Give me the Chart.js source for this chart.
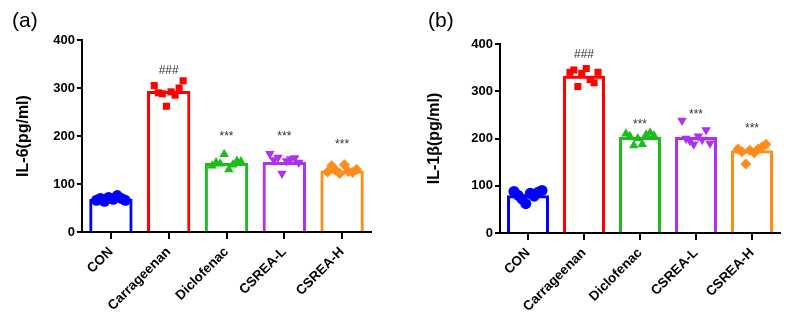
<!DOCTYPE html>
<html>
<head>
<meta charset="utf-8">
<script src="https://cdn.jsdelivr.net/npm/chart.js@4.4.1/dist/chart.umd.min.js"></script>
<style>
  body { margin: 0; background: #fff; }
  #wrap { position: relative; width: 791px; height: 322px; }
  .box { position: absolute; top: 0; height: 322px; }
</style>
</head>
<body>
<div id="wrap">
  <div class="box" style="left:0;width:395px"><canvas id="c1"></canvas></div>
  <div class="box" style="left:395px;width:396px"><canvas id="c2"></canvas></div>
</div>
<script>
// groups
var groups = ['CON', 'Carrageenan', 'Diclofenac', 'CSREA-L', 'CSREA-H'];
var colors = ['#0000ff', '#ff0000', '#1dbb1d', '#b030f0', '#ff8c1a'];
var shapes = ['circle', 'rect', 'triangle', 'triangle', 'rectRot'];
var turns = [0, 0, 0, 180, 0];
var yTicks = [0, 100, 200, 300, 400];

// IL-6 (pg/ml)
var il6Mean = [69, 294, 144, 146, 128];
var il6Pts = [
  [66, 70, 64, 72, 68, 76, 70, 66],
  [305, 290, 288, 262, 292, 285, 300, 315],
  [138, 145, 142, 162, 130, 140, 148, 147],
  [163, 150, 155, 122, 148, 152, 154, 145],
  [125, 138, 128, 122, 140, 126, 124, 130]
];
var il6Sig = ['', '###', '***', '***', '***'];
var il6SigAt = [0, 337, 198, 198, 181];

// IL-1b (pg/ml)
var il1Mean = [80, 333, 203, 203, 175];
var il1Pts = [
  [88, 80, 72, 62, 84, 78, 86, 90],
  [340, 345, 310, 338, 348, 325, 318, 340],
  [210, 205, 185, 200, 188, 208, 212, 206],
  [238, 200, 195, 188, 205, 198, 218, 190],
  [178, 172, 146, 175, 170, 178, 182, 188]
];
var il1Sig = ['', '###', '***', '***', '***'];
var il1SigAt = [0, 377, 229, 250, 220];

// horizontal spread of the dots inside each bar
var spread = [-0.25, -0.18, -0.11, -0.04, 0.04, 0.11, 0.18, 0.25];

var face = 'Arial, "Liberation Sans", sans-serif';

function build(id, letter, title, means, pts, sig, sigAt, pad, yw, xh) {
  var sets = [{
    type: 'bar',
    data: means,
    backgroundColor: 'rgba(255,255,255,0)',
    borderColor: colors,
    borderWidth: 3,
    borderSkipped: 'bottom',
    grouped: false,
    barPercentage: 0.75,
    categoryPercentage: 1,
    order: 2
  }];
  for (var g = 0; g < groups.length; g++) {
    sets.push({
      type: 'scatter',
      xAxisID: 'xs',
      data: pts[g].map(function (v, k) { return { x: g + spread[k], y: v }; }),
      pointStyle: shapes[g],
      rotation: turns[g],
      pointRadius: shapes[g] == 'rect' ? 5 : 5.5,
      backgroundColor: colors[g],
      borderColor: colors[g],
      borderWidth: 0,
      order: 1
    });
  }

  var marks = {
    id: 'marks',
    afterDatasetsDraw: function (chart) {
      var c = chart.ctx;
      c.save();
      c.fillStyle = '#333';
      c.font = '12px ' + face;
      c.textAlign = 'center';
      c.textBaseline = 'middle';
      for (var i = 0; i < sig.length; i++) {
        if (!sig[i]) continue;
        c.fillText(sig[i], chart.scales.x.getPixelForValue(i), chart.scales.y.getPixelForValue(sigAt[i]));
      }
      c.font = '21px ' + face;
      c.fillStyle = '#000';
      c.textAlign = 'left';
      c.fillText(letter, letter == '(a)' ? 12 : 33, 21);
      c.restore();
    }
  };

  return new Chart(document.getElementById(id), {
    data: { labels: groups, datasets: sets },
    plugins: [marks],
    options: {
      responsive: true,
      maintainAspectRatio: false,
      animation: false,
      layout: { padding: pad },
      plugins: { legend: { display: false }, tooltip: { enabled: false } },
      scales: {
        x: {
          type: 'category',
          offset: true,
          grid: { display: true, drawOnChartArea: false, offset: false, color: '#000', lineWidth: 2, tickLength: 7 },
          border: { color: '#000', width: 2 },
          ticks: { color: '#000', font: { family: face, size: 13.5, weight: 'bold' }, maxRotation: 45, minRotation: 45, padding: 5 },
          afterFit: function (s) { s.height = xh; }
        },
        xs: { type: 'linear', min: -0.5, max: 4.5, display: false },
        y: {
          min: 0,
          max: 400,
          afterBuildTicks: function (s) { s.ticks = yTicks.map(function (v) { return { value: v }; }); },
          grid: { display: true, drawOnChartArea: false, color: '#000', lineWidth: 2, tickLength: 5 },
          border: { color: '#000', width: 2 },
          ticks: { color: '#000', font: { family: face, size: 13, weight: 'bold' }, padding: 2 },
          title: { display: true, text: title, color: '#000', font: { family: face, size: 16, weight: 'bold' }, padding: 0 },
          afterFit: function (s) { s.width = yw; }
        }
      }
    }
  });
}

build('c1', '(a)', 'IL-6(pg/ml)', il6Mean, il6Pts, il6Sig, il6SigAt,
  { left: 14, right: 24, top: 40, bottom: 0 }, 68, 90);
build('c2', '(b)', 'IL-1\u03b2(pg/ml)', il1Mean, il1Pts, il1Sig, il1SigAt,
  { left: 30, right: 11, top: 44, bottom: 0 }, 75, 89);
</script>
</body>
</html>
